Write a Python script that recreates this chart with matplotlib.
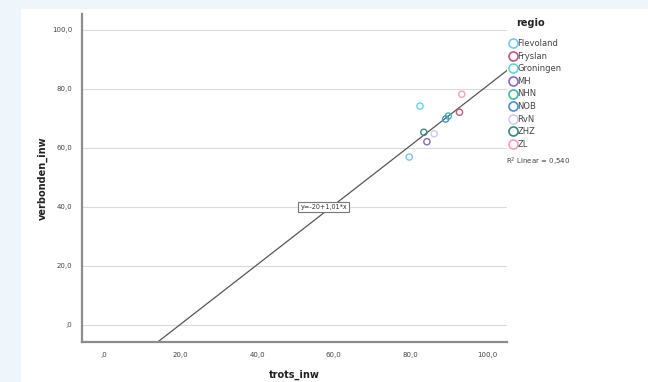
import matplotlib.pyplot as plt
import numpy as np
from matplotlib.lines import Line2D
from matplotlib.patches import Rectangle

regio = ['Flevoland', 'Fryslan', 'Groningen', 'MH', 'NHN', 'NOB', 'RvN', 'ZHZ', 'ZL']
trots = [79.7, 92.8, 82.5, 84.3, 89.9, 89.2, 86.2, 83.5, 93.4]
verbonden = [56.9, 72.1, 74.2, 62.1, 70.8, 69.8, 64.8, 65.3, 78.2]
kleuren = ['#7cc6f2', '#c4587c', '#5cd8e2', '#8a68c0', '#3eb8a8', '#4a8ed2', '#d8c8f6', '#3a887e', '#f2a2ba']
intercept, slope = -20, 1.01
r2 = 0.540

ticks = [0, 20, 40, 60, 80, 100]
ticklabels = [',0', '20,0', '40,0', '60,0', '80,0', '100,0']

fig = plt.figure(figsize=(6.48, 3.82), dpi=100)
fig.patch.set_facecolor('#eef6fc')
fig.patches.append(Rectangle((21 / 648, 0), 1, 1 - 9 / 382, transform=fig.transFigure,
                             facecolor='white', edgecolor='none', zorder=-10))

ax = fig.add_axes([82 / 648, 40 / 382, 425 / 648, 328 / 382])
ax.set_zorder(1)
ax.set_facecolor('white')
ax.set_xlim(-5.7, 105.2)
ax.set_ylim(-5.8, 105.4)

for s in ['top', 'right']:
    ax.spines[s].set_visible(False)
for s in ['left', 'bottom']:
    ax.spines[s].set_color('#8c8c8c')
    ax.spines[s].set_linewidth(1.6)

ax.set_xticks(ticks)
ax.set_xticklabels(ticklabels)
ax.set_yticks(ticks)
ax.set_yticklabels(ticklabels)
ax.tick_params(length=0, labelsize=5, colors='#444444', pad=7)
ax.yaxis.grid(True, color='#dadada', lw=0.8)
ax.set_axisbelow(True)

ax.set_xlabel('trots_inw', fontsize=7, fontweight='bold', color='#222222', labelpad=9)
ax.set_ylabel('verbonden_inw', fontsize=7, fontweight='bold', color='#222222', labelpad=3)

xs = np.array([-10, 110])
ax.plot(xs, intercept + slope * xs, color='#555555', lw=0.9, zorder=2)

for x, y, c in zip(trots, verbonden, kleuren):
    ax.scatter(x, y, s=20, facecolors='none', edgecolors=c, linewidths=1.0, zorder=3)

ax.text(57.4, 40.0, 'y=-20+1,01*x', fontsize=4.7, ha='center', va='center', color='#333333',
        bbox=dict(boxstyle='square,pad=0.3', facecolor='white', edgecolor='#777777', lw=0.8), zorder=4)

handles = [Line2D([], [], ls='none', marker='o', ms=6.5, mfc='none', mec=c, mew=1.2) for c in kleuren]
leg = fig.legend(handles, regio, loc='upper left', bbox_to_anchor=(506 / 648, 1 - 35 / 382),
                 frameon=False, fontsize=6, handlelength=0.6, handletextpad=0.25,
                 labelspacing=0.43, borderpad=0)
for t in leg.get_texts():
    t.set_color('#444444')
fig.text(530 / 648, 1 - 23 / 382, 'regio', fontsize=7, fontweight='bold', ha='center', va='center',
         color='#222222')
fig.text(506 / 648, 1 - 162 / 382, 'R$^2$ Linear = 0,540', fontsize=5, ha='left', va='center',
         color='#444444')

fig.savefig('out.png', dpi=100, facecolor=fig.get_facecolor())
